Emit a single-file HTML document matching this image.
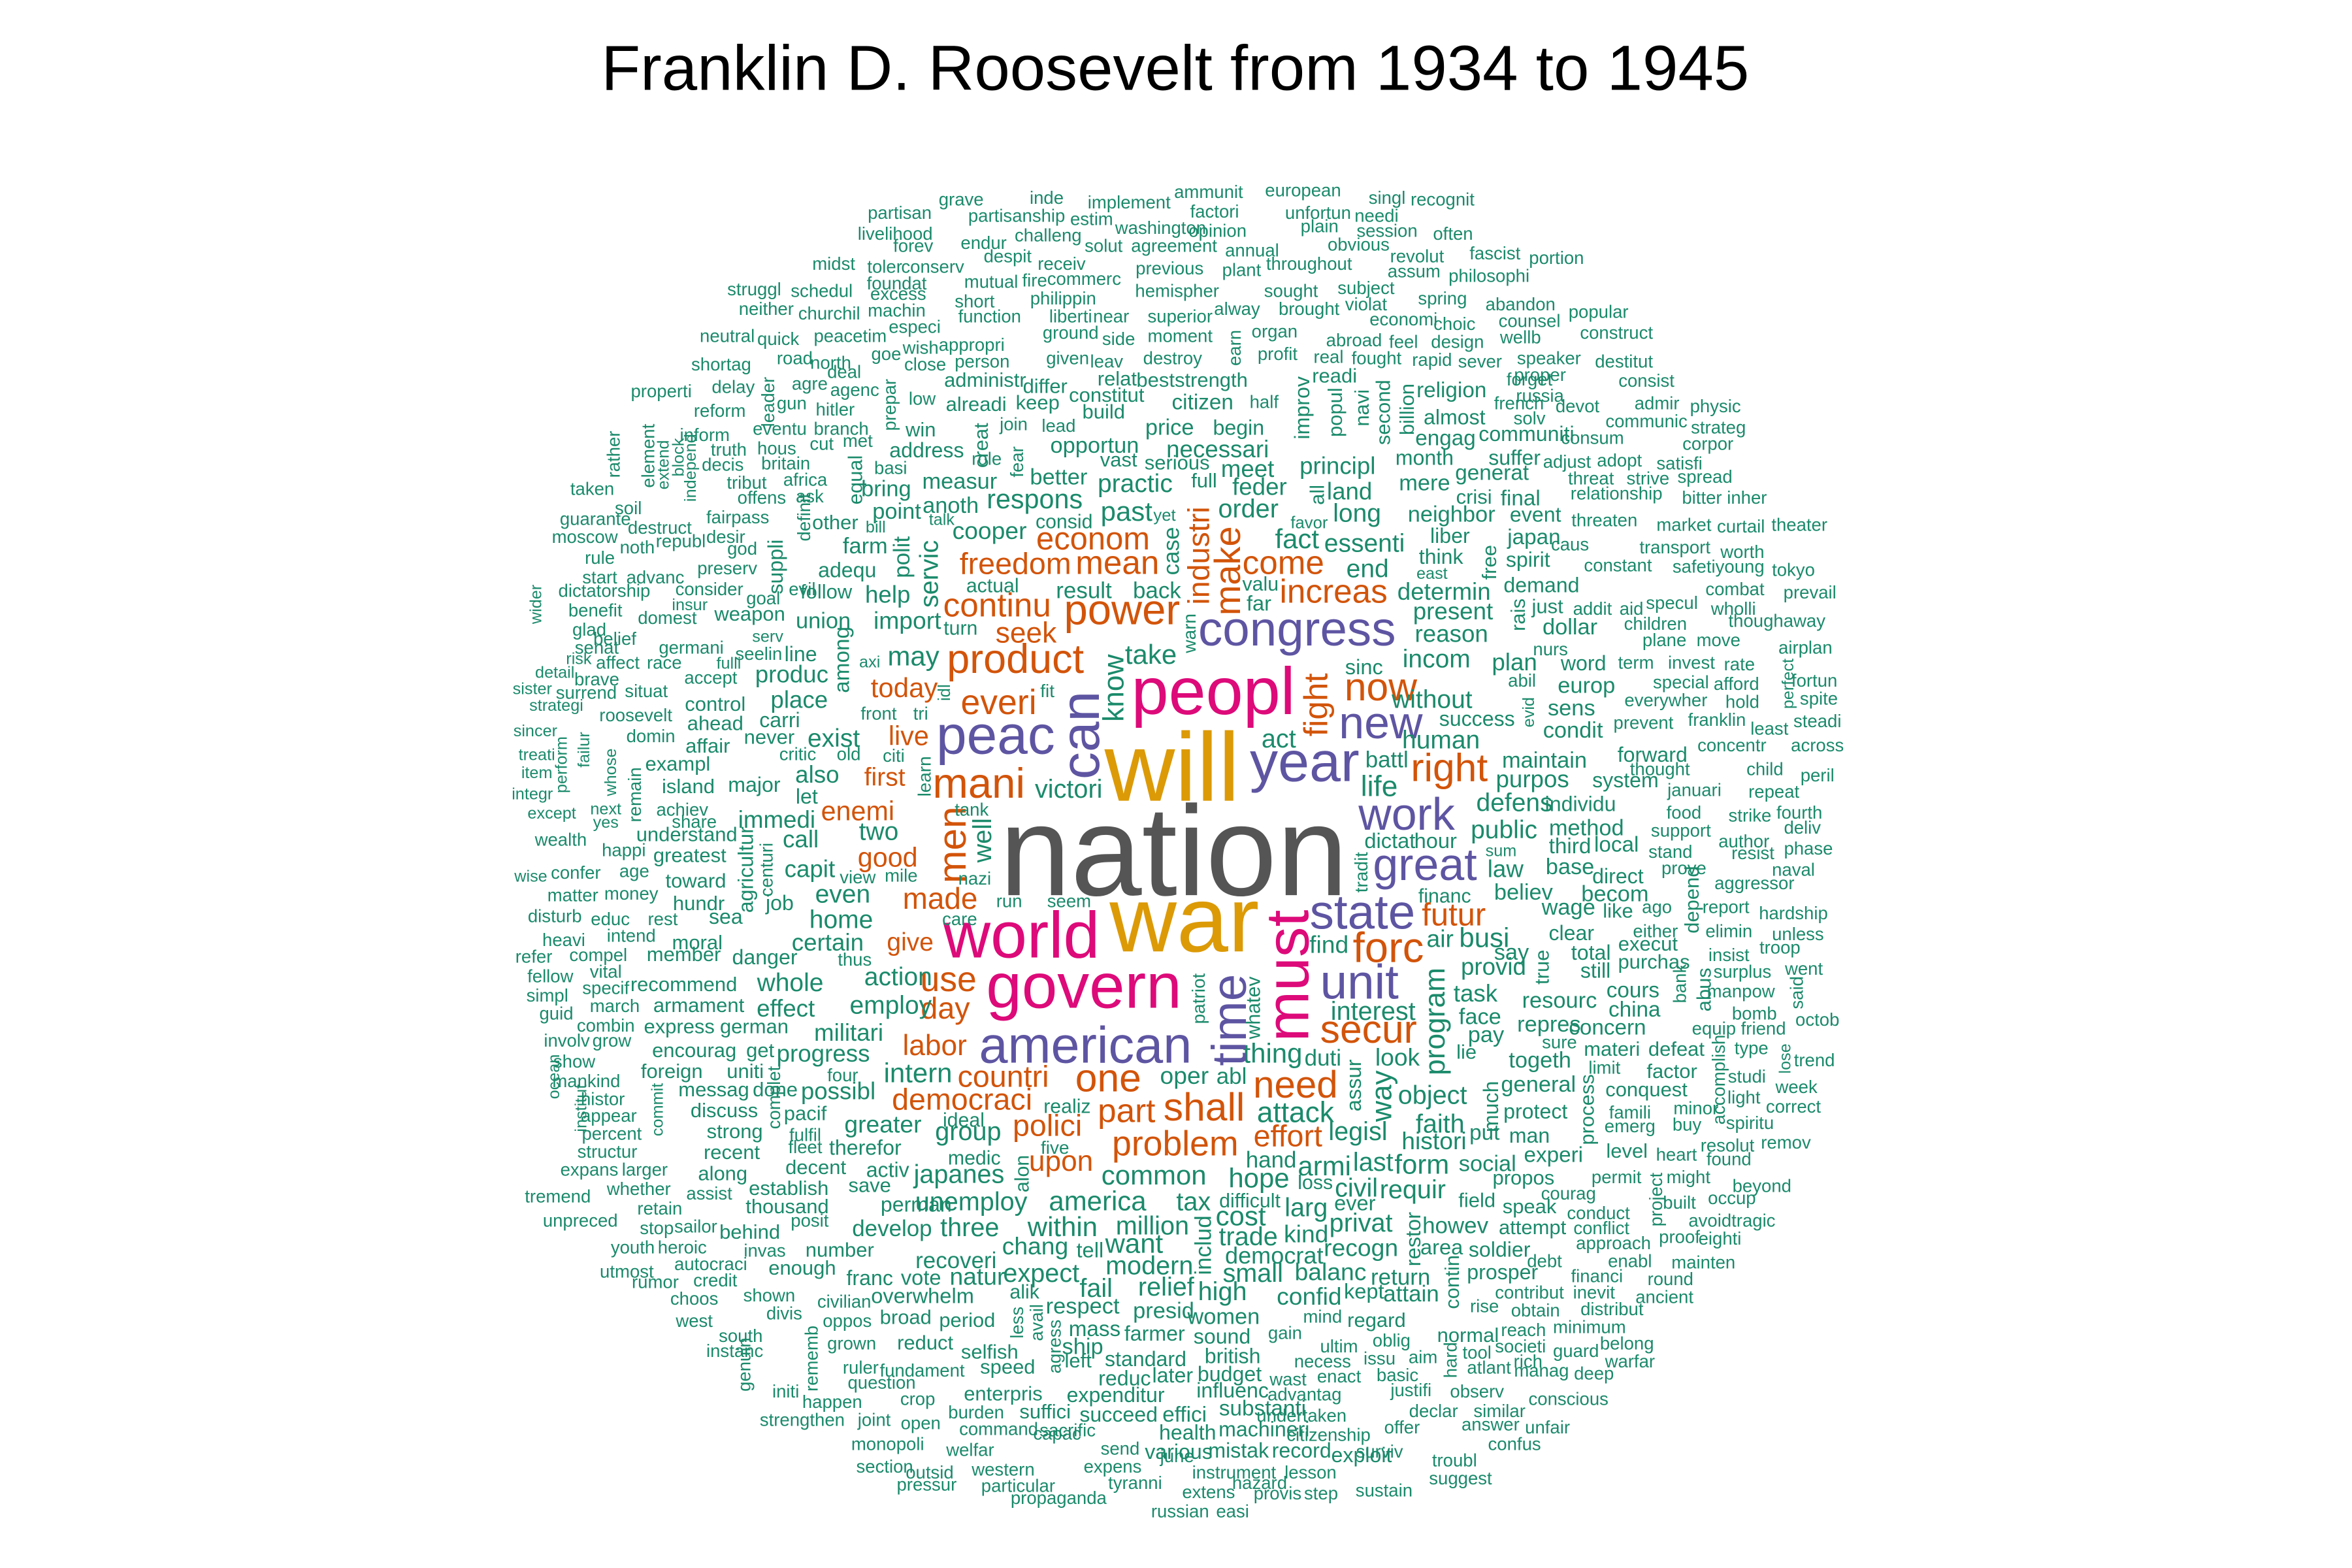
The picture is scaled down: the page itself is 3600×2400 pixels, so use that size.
<!DOCTYPE html>
<html><head><meta charset="utf-8"><title>Franklin D. Roosevelt word cloud</title>
<style>html,body{margin:0;padding:0;background:#fff;}svg{display:block;}</style></head>
<body>
<svg id="cloud" xmlns="http://www.w3.org/2000/svg" width="3600" height="2400" viewBox="0 0 1545 1030" font-family="'Liberation Sans', Arial, sans-serif">
<rect width="1545" height="1030" fill="#fff"/>
<text x="772" y="59" text-anchor="middle" font-size="42" fill="#000">Franklin D. Roosevelt from 1934 to 1945</text>
<g id="measured"></g>
<g id="estimated" transform="scale(0.985)"></g>
</svg>
<script>
const colorMap = {k:'#555555', y:'#DC9A06', m:'#DD0A7A', p:'#5E55A2', o:'#D2540A', g:'#1B8A6B'};
// measured words: word,centerX,baselineY,size,color
const measuredWords = `nation,771,588,84,k
will,770,526,64,y
war,778,625,61,y
peopl,797,469,44,m
peac,654,495,36,p
mani,643,524,28,o
product,667,442,27,o
everi,656,469,23,o
victori,702,524,17,g
take,756,436,18,g
congress,852,424,32,p
now,907,460,26,o
sinc,896,443,14,g
new,907,485,30,p
act,840,491,17,g
year,857,513,37,p
battl,911,504,15,g
life,906,523,19,g
right,952,513,26,o
work,924,545,30,p
dictat,913,557,14,g
hour,943,557,14,g
great,936,578,30,p
financ,949,593,13,g
state,895,610,32,p
futur,955,608,21,o
world,671,629,43,m
find,873,626,16,g
forc,912,632,28,o
air,946,622,16,g
busi,975,622,18,g
use,623,651,23,o
govern,712,662,42,m
day,621,669,20,o
unit,893,656,32,p
interest,902,670,17,g
secur,899,685,26,o
american,713,698,34,p
labor,614,693,19,o
thing,836,698,18,g
duti,869,700,15,g
look,918,700,16,g
continu,655,405,22,o
power,737,410,28,o
seek,674,422,19,o
turn,631,417,13,g
freedom,667,377,20,o
mean,734,377,22,o
econom,718,361,21,o
result,712,393,15,g
back,760,393,15,g
actual,652,389,13,g
cooper,650,354,16,g
consid,699,347,13,g
past,740,342,18,g
yet,765,342,11,g
come,843,377,22,o
fact,852,360,18,g
valu,828,388,13,g
far,827,401,14,g
increas,876,396,22,o
favor,860,347,11,g
order,820,340,17,g
may,600,437,18,g
import,596,413,16,g
today,594,458,18,o
fit,688,458,12,g
one,728,717,26,o
countri,659,714,20,o
intern,603,711,18,g
democraci,632,729,20,o
realiz,701,731,13,g
part,740,737,22,o
shall,791,736,26,o
oper,778,712,16,g
abl,809,712,15,g
need,851,721,25,o
attack,851,737,19,g
effort,846,753,20,o
legisl,892,749,17,g
object,941,725,17,g
faith,946,744,17,g
histori,942,755,16,g
polici,688,746,20,o
ideal,633,740,13,g
group,636,749,17,g
greater,580,744,16,g
problem,772,759,23,o
five,693,758,12,g
medic,640,765,13,g
upon,697,769,19,o
japanes,630,777,17,g
common,758,778,18,g
hand,835,767,15,g
hope,827,780,18,g
armi,870,772,18,g
last,902,769,17,g
form,934,771,18,g
loss,864,781,13,g
civil,891,786,17,g
requir,928,787,17,g
unemploy,638,795,17,g
america,721,795,18,g
tax,784,795,17,g
difficult,821,793,13,g
cost,815,805,18,g
larg,858,799,17,g
ever,890,795,14,g
privat,894,809,17,g
howev,956,810,15,g
develop,586,812,15,g
three,637,812,17,g
within,698,812,18,g
million,757,811,17,g
trade,820,818,17,g
kind,858,816,16,g
chang,680,824,16,g
tell,716,826,14,g
want,745,823,18,g
democrat,837,830,15.5,g
recogn,894,825,16,g
area,947,824,14,g
recoveri,628,833,15,g
modern,755,837,17,g
small,823,842,17,g
balanc,874,841,16,g
return,920,844,15,g
vote,605,844,14,g
natur,642,844,16,g
expect,684,842,17,g
fail,720,852,17,g
relief,766,851,17,g
high,803,854,17,g
alik,673,853,13,g
overwhelm,606,856,14,g
confid,860,857,16,g
kept,896,853,14,g
attain,927,855,15,g`;
// measured vertical words: word,centerX,centerY,size,color
const measuredVertical = `can,709,483,36,p
know,731,452,19,g
fight,864,463,22,o
tradit,894,573,12,g
must,845,641,40,m
patriot,787,656,12,g
time,807,670,32,p
whatev,823,662,13,g
program,942,671,19,g
industri,787,365,20,o
make,806,375,24,o
case,769,362,15,g
warn,781,416,12,g
polit,592,366,15,g
servic,610,377,17,g
assur,889,713,14,g
way,907,720,19,g
restor,928,814,14,g
includ,790,818,15,g
alon,671,771,13,g
idl,620,455,11,g
men,625,555,26,o
well,645,552,17,g
learn,607,510,12,g`;
// estimated words (outer ring): word,centerX,baselineY,size,color
const estimatedWords = `problem,776,771,22,o
present,969,413,16,g
determin,963,400,16,g
reason,968,428,16,g
incom,958,445,17,g
plan,1010,447,16,g
without,955,472,17,g
success,985,484,14,g
human,961,499,17,g
defens,1010,541,17,g
public,1003,559,17,g
law,1004,585,16,g
believ,1016,600,15,g
say,1008,640,15,g
provid,996,650,16,g
task,984,668,16,g
face,987,683,15,g
pay,991,695,15,g
maintain,1030,512,15,g
purpos,1022,525,16,g
sens,1048,477,15,g
condit,1049,492,15,g
europ,1058,462,15,g
word,1056,447,14,g
dollar,1047,423,15,g
method,1058,557,15,g
individu,1054,541,14,g
base,1047,583,15,g
becom,1077,601,15,g
wage,1046,610,15,g
total,1061,640,14,g
still,1064,652,14,g
resourc,1040,672,15,g
repres,1033,688,15,g
togeth,1027,712,15,g
general,1026,728,15,g
protect,1024,746,14,g
man,1020,762,14,g
experi,1036,775,13,g
social,992,781,15,g
system,1084,525,14,g
forward,1102,508,14,g
direct,1079,589,14,g
cours,1089,665,13,g
china,1090,678,13,g
concern,1072,690,13,g
clear,1048,627,14,g
local,1078,568,13,g
third,1047,569,13,g
mere,950,327,15,g
month,950,310,14,g
neighbor,968,348,15,g
think,961,376,14,g
spirit,1019,378,14,g
demand,1028,395,14,g
japan,1023,363,13,g
event,1024,348,12,g
final,1014,337,13,g
crisi,983,336,11,g
religion,968,265,13,g
engag,964,297,13,g
almost,970,283,12,g
communiti,1018,294,12,g
suffer,1010,310,12,g
generat,995,320,13,g
put,990,760,13,g
lie,978,706,11,g
field,985,805,11,g
propos,1016,790,11,g
speak,1020,809,11,g
attempt,1022,823,11,g
soldier,1000,838,12,g
prosper,1002,853,12,g
tank,648,544,10,g
nazi,650,590,10,g
run,673,605,10,g
seem,713,605,10,g
care,640,617,10,g
view,572,589,10,g
mile,601,588,10,g
front,586,480,10,g
tri,614,480,10,g
citi,596,508,10,g
critic,532,507,10,g
old,566,507,10,g
axi,580,445,9,g
thus,570,644,10,g
four,562,721,10,g
east,955,386,9,g
liber,967,362,12,g
just,1032,409,11,g
nurs,1034,437,10,g
abil,1015,458,10,g
sum,1001,571,9,g
essenti,910,368,17,g
end,912,385,17,g
long,905,348,17,g
feder,840,330,16,g
meet,832,318,16,g
principl,892,316,16,g
land,900,333,16,g
practic,757,328,17,g
live,606,497,18,o
first,590,524,17,o
enemi,572,547,18,o
good,592,578,18,o
made,627,606,20,o
give,607,634,17,o
exist,556,498,17,g
also,545,522,16,g
two,586,560,17,g
even,562,602,17,g
home,561,619,17,g
action,599,657,17,g
employ,594,676,17,g
militari,566,694,16,g
progress,549,708,16,g
possibl,559,733,16,g
effect,524,678,16,g
whole,527,661,17,g
certain,552,634,16,g
capit,540,585,16,g
call,534,565,16,g
immedi,518,552,16,g
let,538,536,14,g
place,533,472,16,g
carri,520,485,14,g
produc,528,455,16,g
line,534,441,14,g
union,549,419,15,g
help,592,402,16,g
adequ,565,385,14,g
point,598,346,15,g
farm,577,369,15,g
bring,591,331,15,g
respons,690,339,18,g
better,706,323,15,g
opportun,730,302,15,g
measur,640,326,15,g
anoth,634,342,15,g
address,618,305,14,g
price,780,290,15,g
necessari,812,305,16,g
begin,826,290,14,g
citizen,802,273,13,g
ship,722,903,15,g
respect,722,876,15,g
presid,776,879,15,g
women,816,883,15,g
farmer,770,894,14,g
sound,815,896,14,g
mass,730,891,13,g
standard,764,911,14,g
british,822,909,14,g
reduc,750,924,14,g
later,782,922,12,g
budget,820,921,14,g
expenditur,744,935,14,g
succeed,746,948,14,g
effici,790,948,13,g
influenc,822,932,14,g
substanti,842,944,13,g
machineri,843,958,12,g
health,792,960,12,g
various,786,973,12,g
mistak,826,972,12,g
record,868,972,12,g
exploit,908,975,12,g
perman,611,808,12,g
franc,580,857,14,g
left,719,912,11,g
partisan,600,146,10,g
grave,641,137,10,g
inde,698,136,10,g
implement,753,139,10,g
ammunit,806,132,10,g
european,869,131,10,g
singl,925,136,10,g
recognit,962,137,10,g
livelihood,597,160,10,g
partisanship,678,148,10,g
estim,728,150,10,g
factori,810,145,10,g
unfortun,879,146,10,g
needi,918,148,10,g
forev,609,168,10,g
endur,656,166,10,g
challeng,699,161,10,g
washington,774,156,10,g
opinion,812,158,10,g
plain,880,155,10,g
session,925,158,10,g
often,969,160,10,g
midst,556,180,10,g
toler,590,182,10,g
conserv,622,182,10,g
despit,672,175,10,g
solut,736,168,10,g
agreement,783,168,10,g
annual,835,171,10,g
obvious,906,167,10,g
revolut,945,175,10,g
fascist,997,173,10,g
portion,1038,176,10,g
foundat,598,193,10,g
mutual,661,192,10,g
fire,690,191,10,g
commerc,723,190,10,g
receiv,708,180,10,g
previous,780,183,10,g
plant,828,184,10,g
throughout,873,180,10,g
assum,943,185,10,g
philosophi,993,188,10,g
struggl,503,197,10,g
schedul,548,198,10,g
excess,599,200,10,g
short,650,205,10,g
philippin,709,203,10,g
hemispher,785,198,10,g
sought,861,198,10,g
subject,911,196,10,g
neither,511,210,10,g
churchil,553,213,10,g
machin,598,211,10,g
function,660,215,10,g
liberti,714,215,10,g
near,741,215,10,g
superior,787,215,10,g
alway,825,210,10,g
brought,873,210,10,g
violat,911,207,10,g
spring,962,203,10,g
abandon,1014,207,10,g
popular,1066,212,10,g
neutral,485,228,10,g
quick,519,230,10,g
peacetim,567,228,10,g
especi,610,222,10,g
ground,714,226,10,g
side,746,230,10,g
moment,787,228,10,g
organ,850,225,10,g
economi,936,217,10,g
choic,970,220,10,g
counsel,1020,218,10,g
construct,1078,226,10,g
road,530,243,10,g
appropri,648,234,10,g
wish,614,236,10,g
goe,591,240,10,g
close,617,247,10,g
person,655,245,10,g
given,712,243,10,g
leav,738,245,10,g
destroy,782,243,10,g
profit,852,240,10,g
abroad,903,231,10,g
feel,936,232,10,g
design,972,232,10,g
wellb,1014,229,10,g
shortag,481,247,10,g
north,554,246,10,g
real,886,242,10,g
fought,918,243,10,g
rapid,955,244,10,g
sever,987,245,10,g
speaker,1033,243,10,g
destitut,1083,245,10,g
delay,489,262,10,g
agre,540,260,10,g
agenc,570,264,10,g
deal,563,252,10,g
administr,657,258,11,g
relat,745,257,11,g
beststrength,795,258,11,g
readi,890,255,11,g
proper,1027,254,10,g
consist,1098,258,10,g
properti,441,265,10,g
gun,528,273,10,g
low,615,270,10,g
differ,697,262,11,g
constitut,738,268,11,g
half,843,272,10,g
forget,1020,257,10,g
russia,1027,268,10,g
admir,1105,273,10,g
physic,1144,275,10,g
reform,480,278,10,g
hitler,557,277,10,g
win,614,291,11,g
alreadi,651,274,11,g
keep,692,273,11,g
build,736,279,11,g
french,1013,273,10,g
devot,1052,275,10,g
communic,1098,285,10,g
strateg,1146,289,10,g
inform,470,294,10,g
eventu,520,290,10,g
branch,561,290,10,g
join,676,287,10,g
lead,706,288,10,g
solv,1020,283,10,g
consum,1062,296,10,g
corpor,1139,300,10,g
truth,486,304,10,g
hous,518,303,10,g
cut,548,300,10,g
met,572,298,10,g
adjust,1045,312,10,g
adopt,1080,311,10,g
satisfi,1120,313,10,g
decis,482,314,10,g
britain,524,313,10,g
africa,537,324,10,g
basi,594,316,10,g
role,658,310,10,g
vast,746,311,11,g
serious,785,313,11,g
full,803,325,11,g
threat,1061,323,10,g
strive,1099,323,10,g
spread,1137,322,10,g
taken,395,330,10,g
tribut,498,326,10,g
offens,508,336,10,g
ask,540,335,10,g
relationship,1078,333,10,g
bitter,1135,336,10,g
inher,1165,336,10,g
soil,419,343,10,g
fairpass,492,349,10,g
guarante,397,350,10,g
destruct,440,356,10,g
desir,484,362,10,g
other,557,353,11,g
bill,584,355,9,g
talk,628,350,9,g
threaten,1070,351,10,g
market,1123,354,10,g
curtail,1161,355,10,g
theater,1200,354,10,g
moscow,390,362,10,g
noth,425,369,10,g
republ,454,365,10,g
god,495,370,10,g
caus,1047,367,10,g
transport,1117,369,10,g
worth,1162,372,10,g
rule,400,376,10,g
preserv,485,383,10,g
constant,1079,381,10,g
safetiyoung,1146,382,10,g
tokyo,1196,384,10,g
start,400,389,10,g
advanc,437,389,10,g
consider,473,397,10,g
evil,535,397,10,g
specul,1115,406,10,g
combat,1157,397,10,g
prevail,1207,399,10,g
dictatorship,403,398,10,g
goal,509,403,10,g
follow,551,399,11,g
insur,460,407,9,g
addit,1062,410,10,g
aid,1088,410,10,g
wholli,1156,410,10,g
thoughaway,1185,418,10,g
benefit,397,411,10,g
domest,445,416,10,g
weapon,500,414,11,g
children,1104,420,10,g
plane,1110,431,10,g
move,1146,431,10,g
airplan,1204,436,10,g
glad,393,424,10,g
senat,398,436,10,g
germani,461,436,10,g
serv,512,428,9,g
invest,1128,446,10,g
rate,1160,447,10,g
term,1091,446,10,g
risk,386,443,9,g
belief,410,430,10,g
affect,412,446,10,g
race,443,446,10,g
fulli,486,446,9,g
seelin,506,440,10,g
special,1121,459,10,g
afford,1158,460,10,g
fortun,1210,458,10,g
detail,370,452,9,g
brave,398,457,10,g
accept,474,456,10,g
everywher,1111,471,10,g
hold,1162,472,10,g
spite,1213,470,10,g
sister,355,463,9,g
surrend,391,466,10,g
situat,431,465,10,g
control,477,474,11,g
franklin,1145,484,10,g
strategi,371,474,9,g
roosevelt,424,481,10,g
ahead,477,487,11,g
affair,472,502,11,g
never,513,496,11,g
prevent,1096,486,10,g
least,1180,490,10,g
steadi,1212,485,10,g
sincer,357,491,9,g
domin,434,495,10,g
exampl,452,514,11,g
across,1212,501,10,g
concentr,1155,501,10,g
treati,358,507,9,g
island,459,529,11,g
major,503,528,12,g
thought,1107,517,10,g
child,1177,517,10,g
peril,1212,521,10,g
item,358,519,9,g
integr,355,533,9,g
achiev,455,544,10,g
januari,1130,531,10,g
repeat,1183,532,10,g
except,368,546,9,g
next,404,543,9,g
share,463,552,10,g
food,1123,546,10,g
fourth,1200,546,10,g
strike,1167,548,10,g
wealth,374,564,10,g
yes,404,552,9,g
understand,458,561,11,g
support,1121,558,10,g
deliv,1202,556,10,g
happi,416,571,10,g
greatest,460,575,11,g
author,1163,565,10,g
phase,1206,570,10,g
wise,354,588,9,g
confer,384,586,10,g
age,423,585,10,g
toward,464,592,11,g
sea,484,616,12,g
stand,1114,572,10,g
resist,1169,573,10,g
naval,1196,584,10,g
prove,1123,583,10,g
matter,382,601,10,g
money,421,600,10,g
hundr,466,607,11,g
job,520,607,12,g
ago,1105,609,10,g
aggressor,1170,593,10,g
disturb,370,615,10,g
educ,407,617,10,g
rest,442,617,10,g
report,1151,609,10,g
hardship,1196,613,10,g
heavi,376,631,10,g
intend,421,628,10,g
moral,465,633,11,g
like,1079,612,11,g
elimin,1153,625,10,g
unless,1199,627,10,g
refer,356,642,10,g
compel,399,641,10,g
member,456,641,11,g
danger,510,643,12,g
either,1104,625,10,g
execut,1099,634,11,g
insist,1153,641,10,g
troop,1187,636,10,g
fellow,367,655,10,g
vital,404,652,10,g
recommend,456,661,11,g
purchas,1103,646,11,g
surplus,1162,652,10,g
went,1203,650,10,g
simpl,365,668,10,g
specif,404,663,10,g
armament,466,675,11,g
manpow,1161,665,10,g
guid,371,680,10,g
march,410,675,10,g
combin,404,688,10,g
express,453,689,11,g
german,503,689,11,g
equip,1143,690,10,g
friend,1176,690,10,g
bomb,1170,680,10,g
octob,1212,684,10,g
involv,378,698,10,g
grow,408,698,10,g
encourag,463,705,11,g
get,507,705,11,g
defeat,1118,704,11,g
type,1168,703,10,g
sure,1040,699,10,g
show,383,712,10,g
foreign,448,719,11,g
uniti,497,719,11,g
trend,1210,711,10,g
factor,1115,719,11,g
studi,1165,722,10,g
materi,1075,704,11,g
mankind,391,725,10,g
messag,476,731,11,g
done,517,731,11,g
limit,1070,716,10,g
conquest,1098,731,11,g
week,1198,729,10,g
histor,402,737,10,g
discuss,483,745,11,g
pacif,537,747,11,g
famili,1087,746,10,g
minor,1131,743,10,g
light,1163,736,10,g
correct,1196,742,10,g
appear,406,748,10,g
strong,490,759,11,g
fulfil,537,761,10,g
therefor,577,770,12,g
emerg,1087,755,10,g
buy,1125,754,10,g
spiritu,1167,753,10,g
percent,408,760,10,g
recent,488,773,11,g
fleet,537,769,10,g
decent,544,783,11,g
activ,592,785,12,g
level,1085,772,11,g
heart,1118,774,10,g
resolut,1152,768,10,g
found,1153,777,10,g
remov,1191,766,10,g
structur,405,772,10,g
larger,430,784,10,g
expans,393,784,10,g
establish,526,797,11,g
save,580,795,11,g
permit,1078,789,10,g
might,1126,789,10,g
beyond,1175,795,10,g
tremend,372,802,10,g
whether,426,797,10,g
along,482,787,11,g
assist,473,800,10,g
thousand,525,809,11,g
courag,1046,800,10,g
built,1120,806,10,g
occup,1155,803,10,g
unpreced,387,818,10,g
retain,440,810,10,g
stop,438,823,10,g
sailor,464,822,10,g
posit,540,818,10,g
conduct,1066,813,10,g
avoidtragic,1155,818,10,g
youth,422,836,10,g
heroic,455,836,10,g
behind,500,826,11,g
invas,510,838,10,g
conflict,1068,823,10,g
approach,1076,833,10,g
proof,1120,829,10,g
eighti,1147,830,10,g
utmost,418,852,10,g
autocraci,474,847,10,g
number,560,838,11,g
debt,1030,845,10,g
enabl,1087,845,10,g
mainten,1136,846,10,g
rumor,437,859,10,g
credit,477,858,10,g
enough,535,850,11,g
financi,1065,855,10,g
round,1114,857,10,g
choos,463,870,10,g
shown,513,868,10,g
civilian,563,872,10,g
period,645,885,11,g
contribut,1020,866,10,g
inevit,1063,866,10,g
ancient,1110,869,10,g
rise,990,875,10,g
west,463,885,10,g
divis,523,880,10,g
oppos,565,885,10,g
broad,604,883,11,g
obtain,1024,878,10,g
distribut,1075,877,10,g
regard,918,885,11,g
mind,882,882,10,g
normal,979,895,11,g
south,494,895,10,g
grown,568,900,10,g
reduct,617,900,11,g
selfish,660,906,11,g
minimum,1060,889,10,g
reach,1016,891,10,g
oblig,928,898,10,g
ultim,893,902,10,g
gain,857,893,10,g
instanc,490,905,10,g
ruler,574,916,10,g
fundament,615,918,10,g
speed,672,916,11,g
necess,882,912,10,g
issu,920,910,10,g
aim,949,909,10,g
societi,1014,902,10,g
belong,1085,900,10,g
rich,1019,912,10,g
guard,1051,905,10,g
warfar,1087,912,10,g
initi,524,932,10,g
question,588,926,10,g
enterpris,669,934,11,g
suffici,697,946,11,g
wast,859,924,10,g
enact,893,922,10,g
basic,932,921,10,g
tool,985,906,10,g
atlant,993,916,10,g
manag,1028,918,10,g
deep,1063,920,10,g
happen,555,939,10,g
crop,612,937,10,g
burden,651,946,10,g
advantag,870,934,10,g
justifi,941,931,10,g
observ,985,932,10,g
similar,1000,945,10,g
conscious,1046,937,10,g
strengthen,535,951,10,g
joint,583,951,10,g
open,614,953,10,g
command,666,957,10,g
capac,705,960,10,g
undertaken,868,948,10,g
declar,956,945,10,g
answer,994,954,10,g
unfair,1032,956,10,g
monopoli,592,967,10,g
welfar,647,971,10,g
sacrific,712,958,10,g
send,747,970,10,g
citizenship,886,961,10,g
offer,935,956,10,g
confus,1010,967,10,g
section,590,982,10,g
outsid,620,986,10,g
western,669,984,10,g
expens,742,982,10,g
june,785,975,10,g
instrument,823,986,10,g
lesson,874,986,10,g
surviv,920,972,10,g
troubl,970,978,10,g
suggest,974,990,10,g
pressur,618,994,10,g
particular,679,995,10,g
tyranni,757,993,10,g
extens,806,999,10,g
hazard,840,993,10,g
provis,852,1000,10,g
step,881,1000,10,g
sustain,923,998,10,g
propaganda,706,1003,10,g
russian,787,1012,10,g
easi,822,1012,10,g`;
// estimated vertical words: word,centerX,centerY,size,color
const estimatedVertical = `among,561,440,13,g
suppli,517,378,12,g
free,993,375,11,g
rais,1012,410,11,g
improv,868,272,12,g
popul,890,275,11,g
navi,908,272,11,g
second,922,275,11,g
billion,938,273,11,g
leader,512,268,10,g
rather,409,303,10,g
element,432,304,10,g
extend,442,310,9,g
block,452,305,9,g
independ,460,312,9,g
wider,357,403,9,g
perform,374,510,9,g
failur,389,500,9,g
whose,407,515,9,g
remain,423,530,10,g
agricultur,497,580,12,g
centuri,511,580,10,g
evid,1019,475,9,g
perfect,1192,456,9,g
depend,1128,600,11,g
bank,1120,656,10,g
abus,1136,660,11,g
said,1198,662,10,g
lose,1190,706,9,g
project,1104,800,10,g
much,994,738,12,g
contin,968,855,11,g
less,678,882,10,g
avail,691,882,10,g
agress,703,898,10,g
genuin,496,910,10,g
rememb,541,906,10,g
hard,967,907,10,g
ocean,369,718,9,g
institut,387,739,9,g
commit,438,740,9,g
complet,516,732,10,g
process,1058,740,11,g
accomplish,1146,720,10,g
true,1028,645,11,g
prepar,593,270,10,g
creat,654,297,11,g
fear,678,308,10,g
equal,570,320,11,g
definit,536,345,10,g
earn,823,232,10,g
all,878,330,11,g`;

function parse(block){ return block.trim().split('\n').map(l=>{const a=l.split(',');return {w:a[0],x:+a[1],y:+a[2],s:+a[3],c:a[4]};}); }
function adjSize(s){ if(s<=9) return 11; if(s<=10) return 12; if(s<=11) return 13.5; if(s<=12) return 14; if(s<=13) return 14.5; return s; }
const mw = parse(measuredWords);
const mv = parse(measuredVertical);
const taken = new Set(mw.map(d=>d.w).concat(mv.map(d=>d.w)));
const ew = parse(estimatedWords).filter(d=>!taken.has(d.w));
const ev = parse(estimatedVertical).filter(d=>!taken.has(d.w));
const NS = 'http://www.w3.org/2000/svg';
const gM = document.getElementById('measured');
const gE = document.getElementById('estimated');
function addH(parent, d, size){
  const t = document.createElementNS(NS,'text');
  t.setAttribute('x', d.x);
  t.setAttribute('y', d.y);
  t.setAttribute('font-size', size);
  t.setAttribute('fill', colorMap[d.c]);
  t.setAttribute('text-anchor','middle');
  
  
  t.textContent = d.w;
  parent.appendChild(t);
}
function addV(parent, d, size){
  const t = document.createElementNS(NS,'text');
  t.setAttribute('transform', 'translate(' + d.x + ',' + d.y + ') rotate(-90)');
  t.setAttribute('font-size', size);
  t.setAttribute('fill', colorMap[d.c]);
  t.setAttribute('text-anchor','middle');
  t.setAttribute('dy','0.36em');
  
  
  t.textContent = d.w;
  parent.appendChild(t);
}
mw.forEach(d=>addH(gM, d, d.s));
mv.forEach(d=>addV(gM, d, d.s));
ew.forEach(d=>addH(gE, d, adjSize(d.s)));
ev.forEach(d=>addV(gE, d, adjSize(d.s)));
</script>
</body></html>
